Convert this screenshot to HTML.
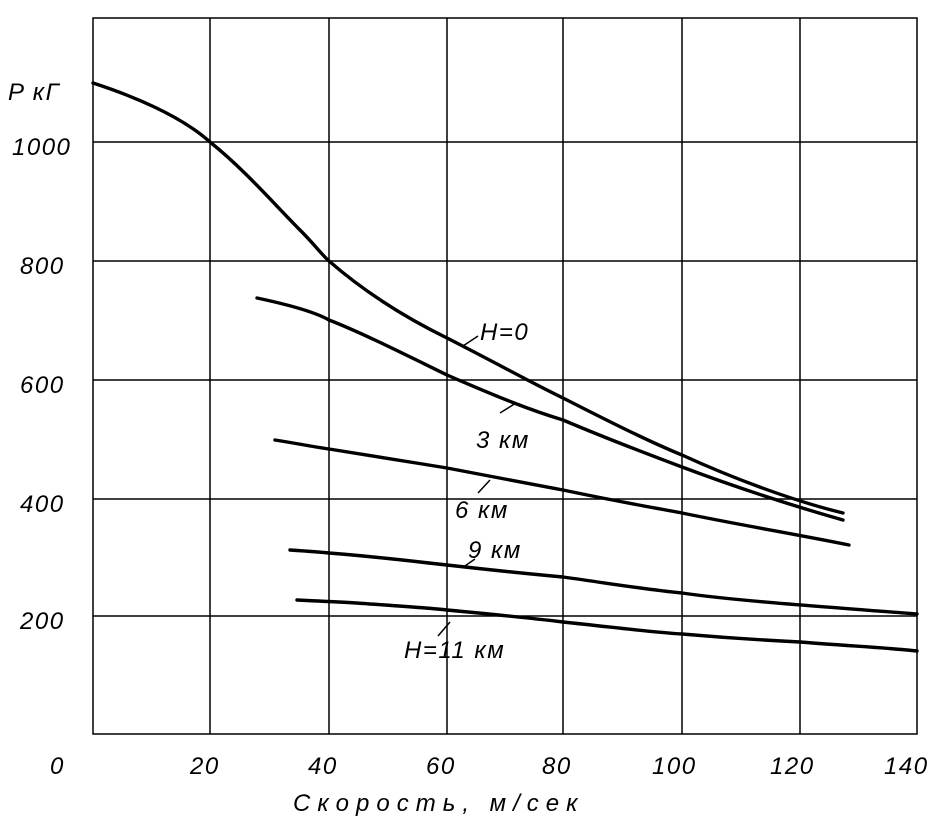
<!DOCTYPE html>
<html><head><meta charset="utf-8"><style>
html,body{margin:0;padding:0;background:#fff;}
svg{display:block;}
text{font-family:"Liberation Sans",sans-serif;font-style:italic;fill:#000;}
</style></head><body>
<svg width="938" height="832" viewBox="0 0 938 832" xmlns="http://www.w3.org/2000/svg">
<g stroke="#000" stroke-width="1.5" fill="none">
<rect x="93" y="18" width="824" height="716"/>
<line x1="210" y1="18" x2="210" y2="734"/>
<line x1="329" y1="18" x2="329" y2="734"/>
<line x1="447" y1="18" x2="447" y2="734"/>
<line x1="563" y1="18" x2="563" y2="734"/>
<line x1="682" y1="18" x2="682" y2="734"/>
<line x1="800" y1="18" x2="800" y2="734"/>
<line x1="93" y1="142" x2="917" y2="142"/>
<line x1="93" y1="261" x2="917" y2="261"/>
<line x1="93" y1="380" x2="917" y2="380"/>
<line x1="93" y1="499" x2="917" y2="499"/>
<line x1="93" y1="616" x2="917" y2="616"/>
</g>
<g stroke="#000" stroke-width="3.4" fill="none" stroke-linejoin="round" stroke-linecap="round">
<path d="M93,83 C130,95 180,115 210,142 C245,170 275,205 300,230 C315,245 322,255 329,261 C360,288 400,315 447,338 C500,365 530,382 563,398 C610,422 650,442 682,455 C730,477 790,500 843,513"/>
<path d="M257,298 C290,305 315,312 329,320 C360,332 400,352 447,375 C500,398 530,410 563,420 C610,440 650,455 682,467 C730,485 790,505 843,520"/>
<path d="M275,440 C300,444 315,447 329,449 C380,457 410,462 447,468 C500,478 530,484 563,490 C620,502 650,507 682,513 C740,525 800,535 849,545"/>
<path d="M290,550 C320,552 329,553 329,553 C380,557 410,561 447,565 C500,571 530,574 563,577 C620,585 650,590 682,593 C730,600 800,605 917,614"/>
<path d="M297,600 C340,602 360,603 370,604 C400,606 430,608 447,610 C500,615 530,618 563,622 C620,628 650,632 682,634 C740,639 780,641 800,642 C850,646 890,648 917,651"/>
</g>
<g stroke="#000" stroke-width="1.5">
<line x1="463" y1="346" x2="478" y2="336"/>
<line x1="500" y1="413" x2="516" y2="403"/>
<line x1="478" y1="493" x2="490" y2="480"/>
<line x1="462" y1="568" x2="475" y2="559"/>
<line x1="438" y1="636" x2="450" y2="622"/>
</g>
<g font-size="24" letter-spacing="1.5">
<text x="8" y="100">P кГ</text>
<text x="12" y="155">1000</text>
<text x="20" y="274">800</text>
<text x="20" y="393">600</text>
<text x="20" y="512">400</text>
<text x="20" y="629">200</text>
<text x="50" y="774">0</text>
<text x="190" y="774">20</text>
<text x="308" y="774">40</text>
<text x="426" y="774">60</text>
<text x="542" y="774">80</text>
<text x="652" y="774">100</text>
<text x="770" y="774">120</text>
<text x="884" y="774">140</text>
<text x="293" y="811" letter-spacing="7">Скорость, м/сек</text>
<text x="480" y="340">H=0</text>
<text x="476" y="448">3 км</text>
<text x="455" y="518">6 км</text>
<text x="468" y="558">9 км</text>
<text x="404" y="658">H=11 км</text>
</g>
</svg>
</body></html>
